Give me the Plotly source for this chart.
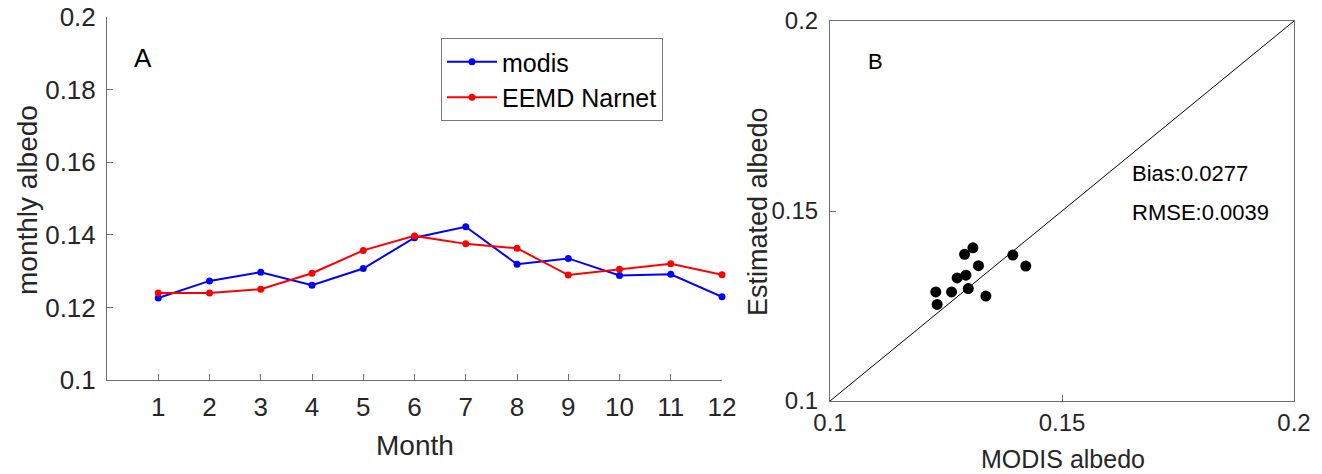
import plotly.graph_objects as go

months = list(range(1, 13))
modis = [0.1226, 0.1273, 0.1297, 0.1261, 0.1307, 0.1392, 0.1422, 0.1319, 0.1335, 0.1288, 0.1291, 0.1229]
eemd = [0.1240, 0.1240, 0.1250, 0.1294, 0.1357, 0.1397, 0.1375, 0.1363, 0.1289, 0.1305, 0.1320, 0.1290]

scatter_x = [0.1228, 0.1231, 0.1262, 0.1274, 0.1293, 0.1298, 0.1290, 0.1308, 0.1320, 0.1336, 0.1394, 0.1422]
scatter_y = [0.1287, 0.1254, 0.1287, 0.1324, 0.1331, 0.1296, 0.1386, 0.1403, 0.1356, 0.1276, 0.1384, 0.1355]
diag = [0.1, 0.2]

a_yticks = [0.1, 0.12, 0.14, 0.16, 0.18, 0.2]
a_yticklabels = ["0.1", "0.12", "0.14", "0.16", "0.18", "0.2"]
b_ticks = [0.1, 0.15, 0.2]
b_ticklabels = ["0.1", "0.15", "0.2"]

W, H = 1322, 474
FONT = "Liberation Sans, Arial, Helvetica, sans-serif"
TXT = "#262626"
AX = "#6e6e6e"

fig = go.Figure()
fig.add_trace(go.Scatter(x=months, y=modis, mode="lines+markers", name="modis",
                         line=dict(color="#0000ff", width=2), marker=dict(size=7, color="#0000ff"),
                         cliponaxis=False, xaxis="x", yaxis="y"))
fig.add_trace(go.Scatter(x=months, y=eemd, mode="lines+markers", name="EEMD Narnet",
                         line=dict(color="#ff0000", width=2), marker=dict(size=7, color="#ff0000"),
                         cliponaxis=False, xaxis="x", yaxis="y"))
fig.add_trace(go.Scatter(x=diag, y=diag, mode="lines", showlegend=False,
                         line=dict(color="black", width=1), xaxis="x2", yaxis="y2"))
fig.add_trace(go.Scatter(x=scatter_x, y=scatter_y, mode="markers", showlegend=False,
                         marker=dict(size=11, color="black"), xaxis="x2", yaxis="y2"))

def px_x(p):
    return p / W

def px_y(p):
    return 1 - p / H

fig.update_layout(
    width=W, height=H, margin=dict(l=0, r=0, t=0, b=0),
    paper_bgcolor="white", plot_bgcolor="white",
    font=dict(family=FONT, color=TXT),
    xaxis=dict(domain=[px_x(107), px_x(722)], range=[0, 12], tickvals=months,
               ticks="inside", ticklen=6, tickcolor=AX, showline=True, linecolor=AX, linewidth=1,
               showgrid=False, zeroline=False, tickfont=dict(size=26, color=TXT),
               ticklabelstandoff=4, anchor="y", automargin=False),
    yaxis=dict(domain=[px_y(380), px_y(17)], range=[0.1, 0.2], tickvals=a_yticks, ticktext=a_yticklabels,
               ticks="inside", ticklen=6, tickcolor=AX, showline=True, linecolor=AX, linewidth=1,
               showgrid=False, zeroline=False, tickfont=dict(size=26, color=TXT),
               ticklabelstandoff=5, anchor="x", automargin=False),
    xaxis2=dict(domain=[px_x(830), px_x(1294)], range=[0.1, 0.2], tickvals=b_ticks, ticktext=b_ticklabels,
                ticks="inside", ticklen=6, tickcolor=AX, showline=True, mirror=True, linecolor=AX, linewidth=1,
                showgrid=False, zeroline=False, tickfont=dict(size=24, color=TXT),
                anchor="y2", automargin=False),
    yaxis2=dict(domain=[px_y(401), px_y(21)], range=[0.1, 0.2], tickvals=b_ticks, ticktext=b_ticklabels,
                ticks="inside", ticklen=6, tickcolor=AX, showline=True, mirror=True, linecolor=AX, linewidth=1,
                showgrid=False, zeroline=False, tickfont=dict(size=24, color=TXT),
                ticklabelstandoff=6, anchor="x2", automargin=False),
    legend=dict(x=px_x(441), y=px_y(38), xanchor="left", yanchor="top",
                bordercolor="#7a7a7a", borderwidth=1, bgcolor="white",
                font=dict(size=25, color="black"), tracegroupgap=0, itemwidth=50),
    showlegend=True,
)

annos = [
    dict(text="monthly albedo", x=px_x(28), y=px_y(200), textangle=-90, font=dict(size=28, color=TXT)),
    dict(text="Month", x=px_x(415), y=px_y(445), font=dict(size=28, color=TXT)),
    dict(text="Estimated albedo", x=px_x(758), y=px_y(212), textangle=-90, font=dict(size=27, color=TXT)),
    dict(text="MODIS albedo", x=px_x(1063), y=px_y(459), font=dict(size=25, color=TXT)),
    dict(text="A", x=px_x(143), y=px_y(58), font=dict(size=26, color="black")),
    dict(text="B", x=px_x(875), y=px_y(62), font=dict(size=22, color="black")),
    dict(text="Bias:0.0277", x=px_x(1130), y=px_y(173), xanchor="left", font=dict(size=22, color="black")),
    dict(text="RMSE:0.0039", x=px_x(1130), y=px_y(213), xanchor="left", font=dict(size=22, color="black")),
]
for a in annos:
    a.setdefault("xanchor", "center")
    fig.add_annotation(xref="paper", yref="paper", showarrow=False, yanchor="middle", **a)

fig.write_html("out.html")
